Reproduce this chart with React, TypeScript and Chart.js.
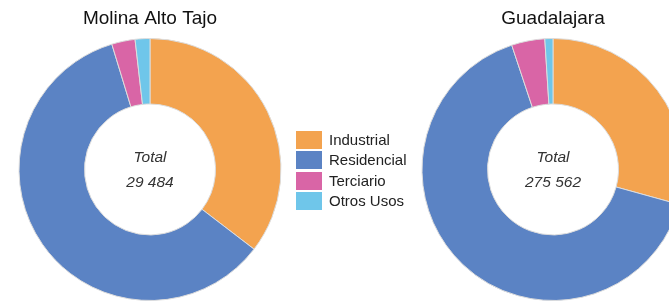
import React, { useEffect, useRef } from "react";
import { Chart, registerables } from "chart.js";

Chart.register(...registerables);

const categories = ["Industrial", "Residencial", "Terciario", "Otros Usos"];
const colors = ["#F3A34F", "#5B83C4", "#D965A6", "#6FC6EA"];
const molinaValues = [10437, 17660, 850, 537];
const guadalajaraValues = [80740, 180770, 11300, 2752];
const titles = ["Molina Alto Tajo", "Guadalajara"];
const totalLabel = "Total";

const fmt = (n: number) => String(n).replace(/\B(?=(\d{3})+(?!\d))/g, " ");

const centerText = {
  id: "centerText",
  afterDraw(chart: any) {
    const meta = chart.getDatasetMeta(0);
    const arc = meta.data[0];
    if (!arc) return;
    const { x, y } = arc;
    const vals = chart.data.datasets[0].data as number[];
    const total = vals.reduce((a, b) => a + b, 0);
    const ctx = chart.ctx;
    ctx.save();
    ctx.fillStyle = "#333333";
    ctx.font = "italic 15.5px 'Liberation Sans', Arial, sans-serif";
    ctx.textAlign = "center";
    ctx.textBaseline = "middle";
    ctx.fillText(totalLabel, x, y - 12);
    ctx.fillText(fmt(total), x, y + 13);
    ctx.restore();
  },
};

function Donut({ title, values, left }: { title: string; values: number[]; left: number }) {
  const ref = useRef<HTMLCanvasElement>(null);
  useEffect(() => {
    if (!ref.current) return;
    const chart = new Chart(ref.current, {
      type: "doughnut",
      data: {
        labels: categories,
        datasets: [
          {
            data: values,
            backgroundColor: colors,
            borderColor: "#dcdcdc",
            borderWidth: 1,
          },
        ],
      },
      options: {
        animation: false,
        responsive: false,
        cutout: "50%",
        layout: { padding: { bottom: 2 } },
        plugins: {
          legend: { display: false },
          tooltip: { enabled: false },
          title: {
            display: true,
            text: title,
            color: "#111111",
            font: { size: 19, family: "'Liberation Sans', Arial, sans-serif", weight: "normal", lineHeight: 1.2 },
            padding: { top: 7, bottom: 8.2 },
          },
        },
      },
      plugins: [centerText],
    });
    return () => chart.destroy();
  }, []);
  return (
    <canvas
      ref={ref}
      width={300}
      height={303}
      style={{ position: "absolute", left, top: 0, width: 300, height: 303 }}
    />
  );
}

export default function App() {
  return (
    <div
      style={{
        position: "fixed",
        left: 0,
        top: 0,
        width: 669,
        height: 303,
        overflow: "hidden",
        background: "#ffffff",
        fontFamily: "'Liberation Sans', Arial, sans-serif",
      }}
    >
      <Donut title={titles[0]} values={molinaValues} left={0} />
      <Donut title={titles[1]} values={guadalajaraValues} left={403} />
      <div style={{ position: "absolute", left: 296, top: 130 }}>
        {categories.map((c, i) => (
          <div key={c} style={{ display: "flex", alignItems: "center", height: 20.3 }}>
            <div style={{ width: 26, height: 18, background: colors[i], marginRight: 7 }} />
            <span style={{ fontSize: 15, color: "#222222", lineHeight: "20px" }}>{c}</span>
          </div>
        ))}
      </div>
    </div>
  );
}
